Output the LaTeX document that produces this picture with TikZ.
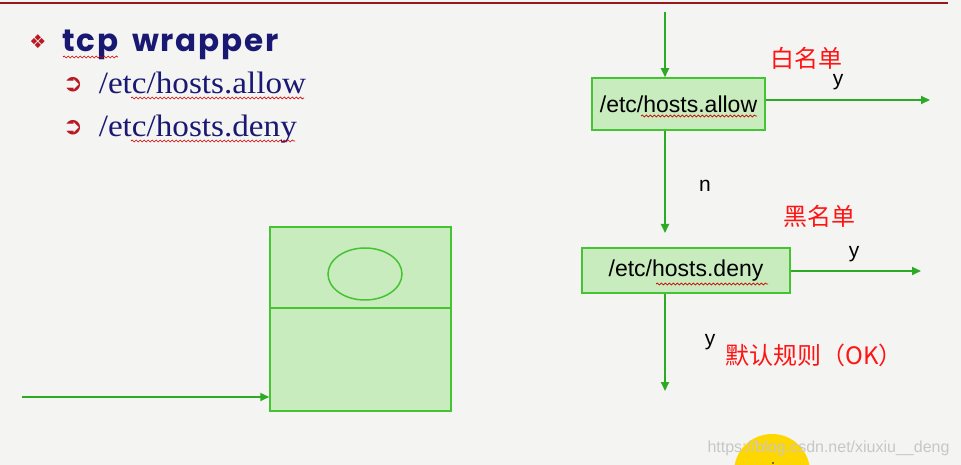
\documentclass[tikz,border=0pt]{standalone}
\usepackage{fontspec}
\setmainfont{Liberation Serif}
\setsansfont{Liberation Sans}
\newfontfamily\cjkfont{Noto Sans CJK SC}
\newfontfamily\symfont{DejaVu Sans}
\newfontfamily\headfont[LetterSpace=6, WordSpace=1.6]{Poppins}
\usetikzlibrary{shapes.geometric,positioning,calc,arrows.meta,decorations.pathmorphing}
\definecolor{slidebg}{RGB}{244,244,242}
\definecolor{rulered}{RGB}{150,25,30}
\definecolor{navyink}{RGB}{25,25,115}
\definecolor{bulletred}{RGB}{185,25,35}
\definecolor{boxfill}{RGB}{200,236,190}
\definecolor{boxedge}{RGB}{70,195,50}
\definecolor{flowgreen}{RGB}{45,170,35}
\definecolor{notered}{RGB}{255,20,20}
\definecolor{markyellow}{RGB}{255,215,0}

\begin{document}
\begin{tikzpicture}[x=1pt, y=-1pt,
    flowbox/.style={rectangle, draw=boxedge, fill=boxfill, line width=1.5pt, inner sep=0pt, font=\sffamily\fontsize{23}{25}\selectfont},
    flowline/.style={draw=flowgreen, line width=1.8pt, -{Triangle[length=9pt, width=8pt]}},
    branch/.style={font=\sffamily\fontsize{21}{23}\selectfont, text=black},
    note/.style={font=\cjkfont\fontsize{24}{26}\selectfont, text=notered},
    item/.style={font=\fontsize{31}{33}\selectfont, text=navyink, anchor=base west, xscale=1.07},
    bulletmark/.style={font=\symfont\bfseries\fontsize{24}{26}\selectfont, text=bulletred},
    squiggle/.style={draw=red!80!black, line width=0.7pt, decorate, decoration={snake, amplitude=1pt, segment length=4pt}}
]

% page and top rule
\fill[slidebg] (0,0) rectangle (961,465);
\useasboundingbox (0,0) rectangle (961,465);
\draw[rulered, line width=2.5pt] (0,3) -- (948,3);

% heading with the two files
\node[bulletmark, font=\symfont\fontsize{19}{21}\selectfont] (headmark) at (38,42) {❖};
\node[anchor=base west, font=\headfont\bfseries\fontsize{31}{33}\selectfont, text=navyink] (head) at (59,52) {tcp wrapper};
\node[bulletmark] (allowmark) at (73,85) {➲};
\node[item] (allowitem) at (95,94) {/etc/hosts.allow};
\node[bulletmark] (denymark) at (73,128) {➲};
\node[item] (denyitem) at (95,137) {/etc/hosts.deny};

% spell check marks
\draw[squiggle] (63,57) -- (118,57);
\draw[squiggle] (131,98) -- (304,98);
\draw[squiggle] (131,141) -- (295,141);

% process box
\node[flowbox, minimum width=181pt, minimum height=184pt] (proc) at (360.5,319) {};
\draw[boxedge, line width=1.5pt] (proc.west |- 0,308) -- (proc.east |- 0,308);
\node[ellipse, draw=boxedge, line width=1.5pt, minimum width=74pt, minimum height=52pt] (eye) at (365,274) {};
\coordinate (src) at (22,397);
\draw[flowline] (src) -- (proc.west |- src);

% checks
\coordinate (entry) at (665,12);
\node[flowbox, minimum width=173pt, minimum height=52pt] (allow) at (678.5,104) {/etc/hosts.allow};
\node[flowbox, minimum width=208pt, minimum height=45pt] (deny) at (686,270.5) {/etc/hosts.deny};
\coordinate (allowout) at (930,100);
\coordinate (denyin) at (665,233);
\coordinate (denyout) at (921,271);
\coordinate (fallback) at (665,391);

\draw[flowline] (entry) -- (entry |- allow.north);
\draw[flowline] (allow.east |- allowout) -- (allowout);
\draw[flowline] (allow.south -| entry) -- (denyin);
\draw[flowline] (deny.east |- denyout) -- (denyout);
\draw[flowline] (deny.south -| entry) -- (fallback);

\draw[squiggle] (641,116) -- (757,116);
\draw[squiggle] (656,284) -- (768,284);

% branch labels
\node[branch] (allowyes) at (838,82) {y};
\node[branch] (allowno) at (705,186) {n};
\node[branch] (denyyes) at (854,254) {y};
\node[branch] (fallyes) at (710,342) {y};
\node[note] (white) at (806,58) {白名单};
\node[note] (black) at (819,216) {黑名单};
\node[note, anchor=west] (default) at (722,355) {默认规则（OK）};

% corner marks of the screenshot
\fill[markyellow] (772,472) circle (38);
\fill[black!70] (773,463) circle (1.2);
\node[anchor=base east, font=\sffamily\fontsize{16}{18}\selectfont, text=black!22] (stamp) at (953,452) {https://blog.csdn.net/xiuxiu\_\_deng};

\end{tikzpicture}
\end{document}
